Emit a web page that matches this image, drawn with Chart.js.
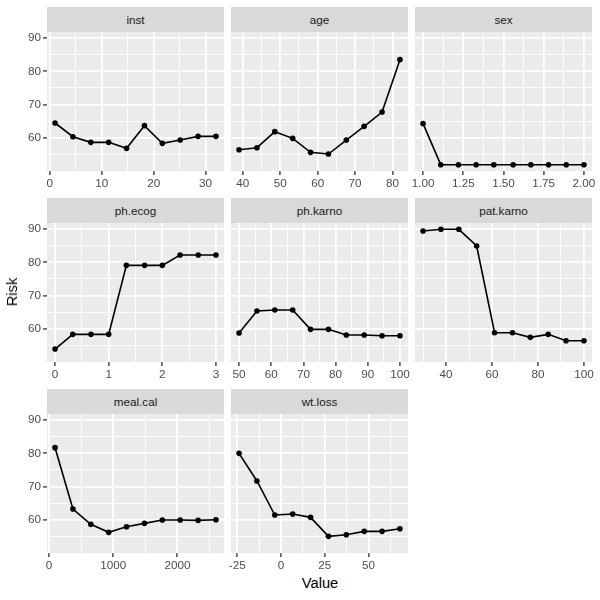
<!DOCTYPE html>
<html>
<head>
<meta charset="utf-8">
<script src="https://cdn.jsdelivr.net/npm/chart.js@4.4.0/dist/chart.umd.min.js"></script>
<style>
  body { margin: 0; background: #fff; font-family: "Liberation Sans", Arial, sans-serif; }
  #wrap { position: relative; width: 600px; height: 600px; overflow: hidden; }
  .strip { position: absolute; height: 25px; line-height: 25px; background: #D9D9D9; color: #1A1A1A; font-size: 11.7px; text-align: center; }
  .box { position: absolute; }
  .axtitle { position: absolute; color: #000; font-size: 14.7px; white-space: nowrap; }
</style>
</head>
<body>
<div id="wrap"></div>
<script>
// facet names, in facet_wrap order
const facets = ["inst", "age", "sex", "ph.ecog", "ph.karno", "pat.karno", "meal.cal", "wt.loss"];

// x values and risk per facet
const instValue = [1, 4.44, 7.89, 11.33, 14.78, 18.22, 21.67, 25.11, 28.56, 32];
const instRisk = [64.5, 60.4, 58.7, 58.7, 56.9, 63.7, 58.4, 59.4, 60.5, 60.5];
const ageValue = [39, 43.78, 48.56, 53.33, 58.11, 62.89, 67.67, 72.44, 77.22, 82];
const ageRisk = [56.5, 57.1, 61.9, 59.9, 55.7, 55.2, 59.4, 63.5, 67.8, 83.5];
const sexValue = [1, 1.11, 1.22, 1.33, 1.44, 1.56, 1.67, 1.78, 1.89, 2];
const sexRisk = [64.3, 52.0, 52.0, 52.0, 52.0, 52.0, 52.0, 52.0, 52.0, 52.0];
const ecogValue = [0, 0.33, 0.67, 1, 1.33, 1.67, 2, 2.33, 2.67, 3];
const ecogRisk = [54.0, 58.4, 58.4, 58.4, 79.1, 79.1, 79.1, 82.2, 82.2, 82.2];
const phKarnoValue = [50, 55.56, 61.11, 66.67, 72.22, 77.78, 83.33, 88.89, 94.44, 100];
const phKarnoRisk = [58.8, 65.4, 65.7, 65.7, 59.9, 59.9, 58.2, 58.2, 58.0, 58.0];
const patKarnoValue = [30, 37.78, 45.56, 53.33, 61.11, 68.89, 76.67, 84.44, 92.22, 100];
const patKarnoRisk = [89.4, 89.9, 89.9, 84.9, 58.9, 58.9, 57.5, 58.4, 56.5, 56.5];
const mealValue = [96, 374.2, 652.4, 930.7, 1208.9, 1487.1, 1765.3, 2043.6, 2321.8, 2600];
const mealRisk = [81.7, 63.3, 58.7, 56.3, 58.0, 59.0, 60.0, 60.0, 59.9, 60.1];
const wtValue = [-24, -13.78, -3.56, 6.67, 16.89, 27.11, 37.33, 47.56, 57.78, 68];
const wtRisk = [80.0, 71.7, 61.5, 61.8, 60.8, 55.1, 55.6, 56.6, 56.6, 57.4];

// tick labels
const riskTicks = [60, 70, 80, 90];
const instTicks = [0, 10, 20, 30];
const ageTicks = [40, 50, 60, 70, 80];
const sexTicks = [1, 1.25, 1.5, 1.75, 2];
const sexTickLabels = ["1.00", "1.25", "1.50", "1.75", "2.00"];
const ecogTicks = [0, 1, 2, 3];
const phKarnoTicks = [50, 60, 70, 80, 90, 100];
const patKarnoTicks = [40, 60, 80, 100];
const mealTicks = [0, 1000, 2000];
const wtTicks = [-25, 0, 25, 50];

const panels = [
  { x: instValue, y: instRisk, ticks: instTicks },
  { x: ageValue, y: ageRisk, ticks: ageTicks },
  { x: sexValue, y: sexRisk, ticks: sexTicks, labels: sexTickLabels },
  { x: ecogValue, y: ecogRisk, ticks: ecogTicks },
  { x: phKarnoValue, y: phKarnoRisk, ticks: phKarnoTicks },
  { x: patKarnoValue, y: patKarnoRisk, ticks: patKarnoTicks },
  { x: mealValue, y: mealRisk, ticks: mealTicks },
  { x: wtValue, y: wtRisk, ticks: wtTicks }
];

// layout (px)
const colLeft = [47, 231, 415];
const rowTop = [32, 223, 414];
const PW = 177, PH = 139, STRIP = 25;
const padL = 12, padR = 14, padT = 8, xh = 22, yw = 35;

const FONT = "'Liberation Sans', Arial, sans-serif";
Chart.defaults.font.family = FONT;

// ggplot style limits: data range + 5%
function expand(arr) {
  const lo = Math.min(...arr), hi = Math.max(...arr), d = (hi - lo) * 0.05;
  return [lo - d, hi + d];
}
// majors + midpoints inside the limits
function withMinor(majors, lim) {
  const step = majors[1] - majors[0];
  const out = [];
  for (let v = majors[0] - step / 2; v <= majors[majors.length - 1] + step / 2 + 1e-9; v += step / 2) {
    if (v >= lim[0] && v <= lim[1]) out.push(+v.toFixed(6));
  }
  return out;
}
function isMajor(v, majors) {
  return majors.some(m => Math.abs(m - v) < 1e-6);
}

const allRisk = [].concat(instRisk, ageRisk, sexRisk, ecogRisk, phKarnoRisk, patKarnoRisk, mealRisk, wtRisk);
const yLim = expand(allRisk);
const yAll = withMinor(riskTicks, yLim);

const bgPlugin = {
  id: 'panelBg',
  beforeDraw(chart) {
    const a = chart.chartArea, c = chart.ctx;
    c.save();
    c.fillStyle = '#EBEBEB';
    c.fillRect(a.left, a.top, a.right - a.left, a.bottom - a.top);
    c.restore();
  }
};

const wrap = document.getElementById('wrap');

panels.forEach((p, i) => {
  const col = i % 3, row = Math.floor(i / 3);
  const left = col === 0;
  const yW = left ? yw : 0;

  const strip = document.createElement('div');
  strip.className = 'strip';
  strip.style.left = colLeft[col] + 'px';
  strip.style.top = (rowTop[row] - STRIP) + 'px';
  strip.style.width = PW + 'px';
  strip.textContent = facets[i];
  wrap.appendChild(strip);

  const box = document.createElement('div');
  box.className = 'box';
  const w = padL + yW + PW + padR, h = padT + PH + xh;
  box.style.left = (colLeft[col] - padL - yW) + 'px';
  box.style.top = (rowTop[row] - padT) + 'px';
  const cv = document.createElement('canvas');
  cv.width = w; cv.height = h;
  box.appendChild(cv);
  wrap.appendChild(box);

  const xLim = expand(p.x);
  const xAll = withMinor(p.ticks, xLim);

  new Chart(cv, {
    type: 'scatter',
    data: {
      datasets: [{
        data: p.x.map((v, k) => ({ x: v, y: p.y[k] })),
        showLine: true,
        borderColor: '#000',
        borderWidth: 1.6,
        pointRadius: 2.8,
        pointBackgroundColor: '#000',
        pointBorderWidth: 0,
        pointHoverRadius: 2.8
      }]
    },
    options: {
      responsive: false,
      animation: false,
      events: [],
      layout: { padding: { left: padL, right: padR, top: padT, bottom: 0 } },
      plugins: { legend: { display: false }, tooltip: { enabled: false } },
      scales: {
        x: {
          type: 'linear',
          min: xLim[0],
          max: xLim[1],
          afterBuildTicks: s => { s.ticks = xAll.map(v => ({ value: v })); },
          afterFit: s => { s.height = xh; s.paddingLeft = 0; s.paddingRight = 0; },
          border: { display: false },
          grid: {
            color: '#FFFFFF',
            lineWidth: ctx => isMajor(ctx.tick.value, p.ticks) ? 1.8 : 0.9,
            tickLength: 4,
            tickWidth: 1.3,
            tickColor: ctx => isMajor(ctx.tick.value, p.ticks) ? '#333333' : 'rgba(0,0,0,0)'
          },
          ticks: {
            autoSkip: false, maxRotation: 0, minRotation: 0, padding: 2,
            color: '#4D4D4D', font: { size: 11.7 },
            callback: v => {
              const k = p.ticks.findIndex(m => Math.abs(m - v) < 1e-6);
              if (k < 0) return '';
              return p.labels ? p.labels[k] : String(p.ticks[k]);
            }
          }
        },
        y: {
          type: 'linear',
          min: yLim[0],
          max: yLim[1],
          afterBuildTicks: s => { s.ticks = yAll.map(v => ({ value: v })); },
          afterFit: s => { s.width = yW; s.paddingTop = 0; s.paddingBottom = 0; },
          border: { display: false },
          grid: {
            color: '#FFFFFF',
            lineWidth: ctx => isMajor(ctx.tick.value, riskTicks) ? 1.8 : 0.9,
            drawTicks: left,
            tickLength: 4,
            tickWidth: 1.3,
            tickColor: ctx => isMajor(ctx.tick.value, riskTicks) ? '#333333' : 'rgba(0,0,0,0)'
          },
          ticks: {
            display: left, autoSkip: false, padding: 2,
            color: '#4D4D4D', font: { size: 11.7 },
            callback: v => isMajor(v, riskTicks) ? String(v) : ''
          }
        }
      }
    },
    plugins: [bgPlugin]
  });
});

// shared axis titles
const yt = document.createElement('div');
yt.className = 'axtitle';
yt.textContent = 'Risk';
yt.style.left = '12px';
yt.style.top = '292px';
yt.style.transform = 'translate(-50%, -50%) rotate(-90deg)';
wrap.appendChild(yt);

const xt = document.createElement('div');
xt.className = 'axtitle';
xt.textContent = 'Value';
xt.style.left = '320px';
xt.style.top = '583px';
xt.style.transform = 'translate(-50%, -50%)';
wrap.appendChild(xt);
</script>
</body>
</html>
